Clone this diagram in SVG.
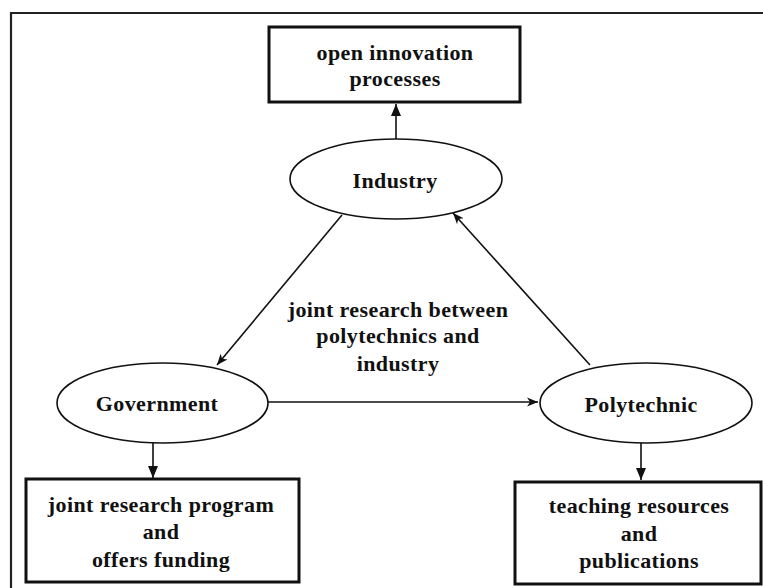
<svg xmlns="http://www.w3.org/2000/svg" width="763" height="588" viewBox="0 0 763 588">
<style>
text{font-family:"Liberation Serif","Times New Roman",serif;font-weight:bold;font-size:22px;letter-spacing:0.4px;fill:#111;text-anchor:middle}
.box{fill:#fff;stroke:#111;stroke-width:3}
.ell{fill:#fff;stroke:#111;stroke-width:1.6}
.con{fill:none;stroke:#111;stroke-width:1.6}
</style>
<defs>
<marker id="ah" viewBox="0 0 12 10" refX="12" refY="5" markerWidth="12" markerHeight="10" markerUnits="userSpaceOnUse" orient="auto">
<path d="M0,0 L12,5 L0,10 z" fill="#111"/>
</marker>
<marker id="ahs" viewBox="0 0 11 10" refX="11" refY="5" markerWidth="11" markerHeight="10" markerUnits="userSpaceOnUse" orient="auto">
<path d="M0,0.5 L11,5 L0,9.5 L3,5 z" fill="#111"/>
</marker>
</defs>
<rect width="763" height="588" fill="#fff"/>
<path d="M11,588 V13 H763" fill="none" stroke="#222" stroke-width="2.2"/>
<g id="connectors">
<line class="con" x1="396" y1="140" x2="396" y2="104" marker-end="url(#ah)"/>
<line class="con" x1="342" y1="215" x2="217" y2="365" marker-end="url(#ahs)"/>
<line class="con" x1="590" y1="365" x2="453" y2="213" marker-end="url(#ahs)"/>
<line class="con" x1="268" y1="402" x2="538" y2="402" marker-end="url(#ahs)"/>
<line class="con" x1="153" y1="443" x2="153" y2="478" marker-end="url(#ah)"/>
<line class="con" x1="641" y1="443" x2="641" y2="480" marker-end="url(#ah)"/>
</g>
<g id="open-innovation">
<rect class="box" x="269" y="27" width="251" height="75"/>
<text x="395" y="60">open innovation</text>
<text x="395" y="86">processes</text>
</g>
<g id="industry">
<ellipse class="ell" cx="396" cy="179" rx="106" ry="40"/>
<text x="395" y="188">Industry</text>
</g>
<g id="government">
<ellipse class="ell" cx="162.5" cy="403" rx="105.5" ry="40"/>
<text x="157" y="411">Government</text>
</g>
<g id="polytechnic">
<ellipse class="ell" cx="646" cy="403" rx="106" ry="40"/>
<text x="641" y="412">Polytechnic</text>
</g>
<g id="label-center">
<text x="398" y="317">joint research between</text>
<text x="398" y="343">polytechnics and</text>
<text x="398" y="371">industry</text>
</g>
<g id="joint-program">
<rect class="box" x="26" y="479" width="273" height="103"/>
<text x="161" y="512">joint research program</text>
<text x="161" y="539">and</text>
<text x="161" y="567">offers funding</text>
</g>
<g id="teaching">
<rect class="box" x="515" y="482" width="246" height="102"/>
<text x="639" y="513">teaching resources</text>
<text x="639" y="541">and</text>
<text x="639" y="568">publications</text>
</g>
</svg>
